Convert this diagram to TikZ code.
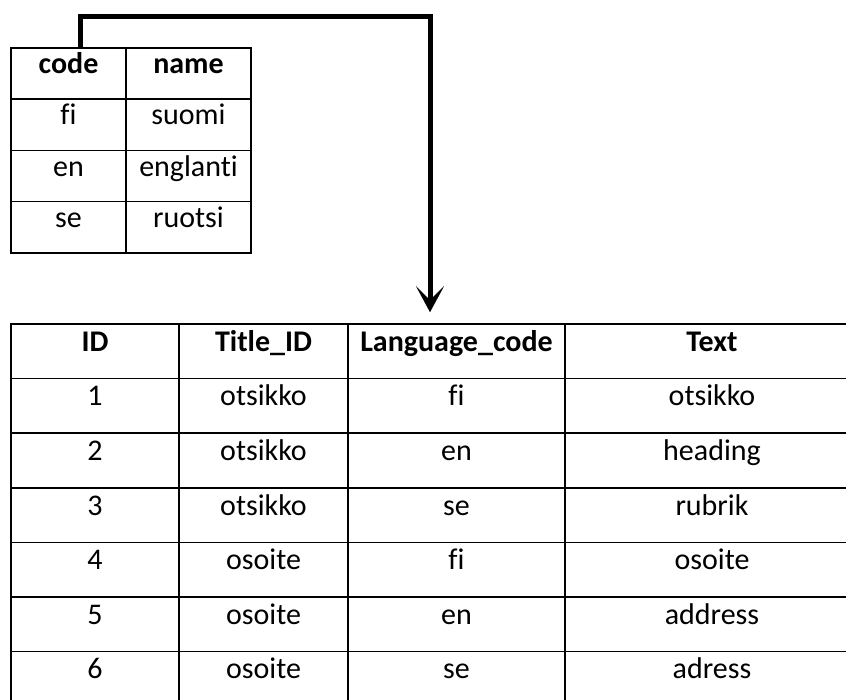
\documentclass[tikz,border=0pt]{standalone}
\usepackage{fontspec}
\setmainfont[Ligatures=NoCommon]{Carlito}
\usetikzlibrary{arrows.meta}

\begin{document}
\begin{tikzpicture}[x=0.5pt, y=-0.5pt,
  cell/.style={draw, line width=0.75pt, inner sep=0pt, text height=8pt, text depth=8pt,
    font=\fontsize{15}{18}\selectfont},
  head/.style={cell, font=\fontsize{15}{18}\selectfont\bfseries},
  link/.style={line width=2.5pt, -{Stealth[length=13pt, width=14pt, inset=7pt]}}]
\useasboundingbox (0,0) rectangle (846,700);
% languages
\node[head, minimum width=57.5pt, minimum height=25.6pt] (code) at (68.5,73.6) {code};
\node[head, minimum width=62.5pt, minimum height=25.6pt] (name) at (188.5,73.6) {name};
\foreach \c/\n [count=\r] in {fi/suomi, en/englanti, se/ruotsi} {
  \node[cell, minimum width=57.5pt, minimum height=25.6pt] (code-\r) at (68.5,73.6+51.25*\r) {\c};
  \node[cell, minimum width=62.5pt, minimum height=25.6pt] (name-\r) at (188.5,73.6+51.25*\r) {\n};
}
% translations
\node[head, minimum width=84pt, minimum height=27.3pt] (id) at (95,351.3) {ID};
\node[head, minimum width=84.5pt, minimum height=27.3pt] (titleid) at (263.5,351.3) {Title\_ID};
\node[head, minimum width=108.5pt, minimum height=27.3pt] (langcode) at (456.5,351.3) {Language\_code};
\node[head, minimum width=147pt, minimum height=27.3pt] (text) at (712,351.3) {Text};
\foreach \t/\l/\s [count=\r] in {otsikko/fi/otsikko, otsikko/en/heading, otsikko/se/rubrik,
    osoite/fi/osoite, osoite/en/address, osoite/se/adress} {
  \node[cell, minimum width=84pt, minimum height=27.3pt] (id-\r) at (95,351.3+54.6*\r) {\r};
  \node[cell, minimum width=84.5pt, minimum height=27.3pt] (titleid-\r) at (263.5,351.3+54.6*\r) {\t};
  \node[cell, minimum width=108.5pt, minimum height=27.3pt] (langcode-\r) at (456.5,351.3+54.6*\r) {\l};
  \node[cell, minimum width=147pt, minimum height=27.3pt] (text-\r) at (712,351.3+54.6*\r) {\s};
}
% foreign key
\coordinate (turn) at (430,17);
\draw[link] ([xshift=5.75pt]code.north) |- (turn) -- ([yshift=5.5pt]turn |- langcode.north);
\end{tikzpicture}
\end{document}
